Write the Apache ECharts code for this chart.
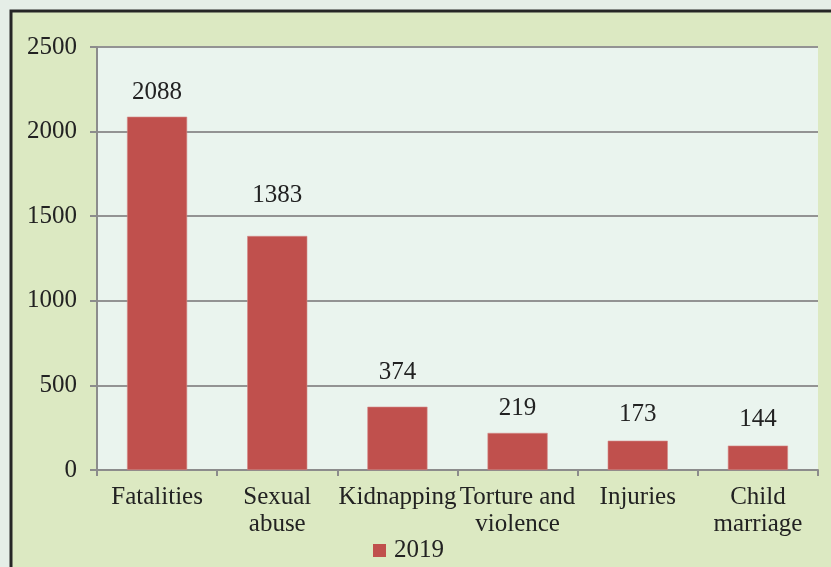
<!DOCTYPE html>
<html><head><meta charset="utf-8">
<script src="https://cdn.jsdelivr.net/npm/echarts@6/dist/echarts.min.js"></script>
<style>html,body{margin:0;padding:0;background:#e5eee7;}#c{width:831px;height:567px;}</style>
</head><body><div id="c"></div>
<script>
const categories = ["Fatalities", "Sexual\nabuse", "Kidnapping", "Torture and\nviolence", "Injuries", "Child\nmarriage"];
const values2019 = [2088, 1383, 374, 219, 173, 144];
const seriesName = "2019";
const yTicks = [0, 500, 1000, 1500, 2000, 2500];

const labelLift = [12, 28, 22, 12, 14, 14];
const font = "'Liberation Serif', 'Times New Roman', serif";

const chart = echarts.init(document.getElementById('c'), null, {renderer: 'canvas'});
chart.setOption({
  backgroundColor: '#e5eee7',
  animation: false,
  graphic: [{
    type: 'rect', z: -10, silent: true,
    shape: {x: 11, y: 11, width: 840, height: 580},
    style: {fill: '#dce9c2', stroke: '#262626', lineWidth: 3}
  }],
  grid: {left: 97, right: 13, top: 47, bottom: 97, show: true, backgroundColor: '#eaf4ee', borderWidth: 0},
  legend: {
    data: [seriesName], left: 368, top: 533, icon: 'rect', itemWidth: 13, itemHeight: 13, itemGap: 10,
    itemStyle: {borderWidth: 0},
    textStyle: {fontFamily: font, fontSize: 25, color: '#222', padding: [0, 0, 0, 3]}
  },
  xAxis: {
    type: 'category', data: categories,
    axisLine: {lineStyle: {color: '#8c8c8c', width: 2}},
    axisTick: {show: true, length: 6, lineStyle: {color: '#8c8c8c', width: 2}},
    axisLabel: {fontFamily: font, fontSize: 25, color: '#222', margin: 14, lineHeight: 27, interval: 0}
  },
  yAxis: {
    type: 'value', min: yTicks[0], max: yTicks[yTicks.length - 1], interval: 500,
    axisLine: {show: true, lineStyle: {color: '#8c8c8c', width: 2}},
    axisTick: {show: true, length: 7, lineStyle: {color: '#8c8c8c', width: 2}},
    splitLine: {show: true, lineStyle: {color: '#939393', width: 2}},
    axisLabel: {fontFamily: font, fontSize: 25, color: '#222', margin: 20, formatter: v => String(v)}
  },
  series: [{
    name: seriesName, type: 'bar', barWidth: '50%',
    itemStyle: {color: '#c0504d', borderColor: '#d48a88', borderWidth: 0.6},
    label: {show: true, position: 'top', fontFamily: font, fontSize: 25, color: '#222'},
    data: values2019.map((v, i) => ({value: v, label: {distance: labelLift[i]}}))
  }]
});
</script></body></html>
